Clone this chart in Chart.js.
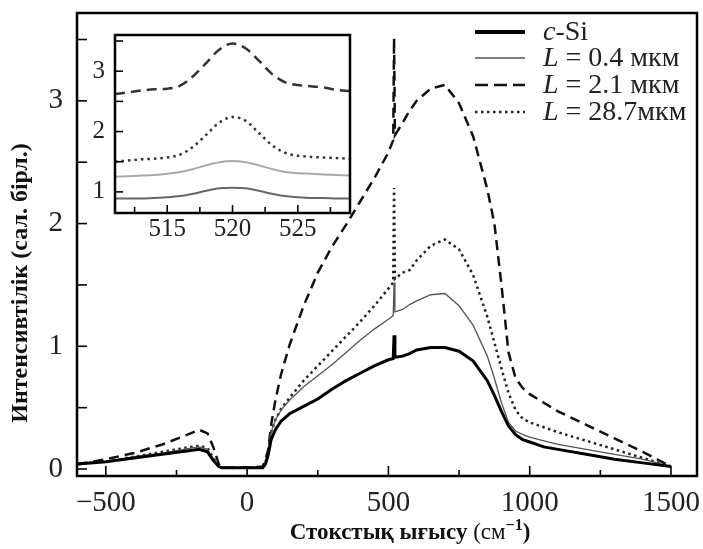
<!DOCTYPE html>
<html>
<head>
<meta charset="utf-8">
<script src="https://cdn.jsdelivr.net/npm/chart.js@4"></script>
<style>
  body { margin: 0; background: #fff; }
  #wrap { position: relative; width: 703px; height: 549px; }
  #main { position: absolute; left: 0; top: 0; }
  #inset { position: absolute; left: 85px; top: 25px; }
</style>
</head>
<body>
<div id="wrap">
  <canvas id="main" width="703" height="549"></canvas>
  <canvas id="inset" width="275" height="225"></canvas>
</div>
<script>
const seriesNames = ['c-Si', 'L = 0.4 мкм', 'L = 2.1 мкм', 'L = 28.7мкм'];
const xTitle = 'Стокстық ығысу ';
const yTitle = 'Интенсивтілік (сал. бірл.)';

const xTicks = [-500, -250, 0, 250, 500, 750, 1000, 1250, 1500];
const yTicks = [0, 0.5, 1, 1.5, 2, 2.5, 3, 3.5];
const insetXTicks = [512.5, 515, 517.5, 520, 522.5, 525, 527.5];
const insetYTicks = [1, 1.5, 2, 2.5, 3, 3.5];

// main spectrum, Raman shift in cm-1
const shifts = [-600, -500, -400, -300, -200, -170, -140, -120, -100, -90,
  0, 55, 65, 75, 85, 100, 120, 150, 200, 250,
  300, 350, 400, 450, 500, 517, 520, 523, 550, 575,
  600, 650, 700, 750, 800, 850, 875, 900, 925, 950,
  975, 1000, 1050, 1100, 1200, 1300, 1400, 1500];
const cSi = [0.04, 0.06, 0.09, 0.12, 0.15, 0.16, 0.14, 0.07, 0.02, 0.01,
  0.01, 0.01, 0.04, 0.12, 0.24, 0.32, 0.39, 0.45, 0.51, 0.57,
  0.65, 0.72, 0.78, 0.84, 0.89, 0.90, 1.09, 0.91, 0.92, 0.94,
  0.97, 0.99, 0.99, 0.96, 0.88, 0.72, 0.60, 0.47, 0.35, 0.28,
  0.24, 0.22, 0.18, 0.16, 0.12, 0.08, 0.05, 0.02];
const L04 = [0.04, 0.06, 0.10, 0.13, 0.17, 0.18, 0.16, 0.08, 0.02, 0.01,
  0.01, 0.01, 0.05, 0.16, 0.30, 0.40, 0.48, 0.56, 0.67, 0.76,
  0.85, 0.95, 1.05, 1.14, 1.22, 1.25, 1.52, 1.28, 1.30, 1.34,
  1.37, 1.42, 1.43, 1.33, 1.17, 0.92, 0.74, 0.54, 0.38, 0.31,
  0.28, 0.26, 0.23, 0.20, 0.16, 0.12, 0.08, 0.02];
const L21 = [0.04, 0.08, 0.13, 0.20, 0.29, 0.32, 0.29, 0.18, 0.04, 0.01,
  0.01, 0.02, 0.08, 0.16, 0.36, 0.56, 0.77, 1.01, 1.33, 1.60,
  1.81, 1.99, 2.18, 2.37, 2.58, 2.68, 3.51, 2.72, 2.82, 2.92,
  3.00, 3.10, 3.13, 2.98, 2.71, 2.28, 2.00, 1.50, 0.95, 0.74,
  0.66, 0.61, 0.54, 0.47, 0.36, 0.25, 0.14, 0.02];
const L287 = [0.04, 0.06, 0.10, 0.14, 0.18, 0.19, 0.17, 0.09, 0.02, 0.01,
  0.01, 0.01, 0.05, 0.16, 0.30, 0.40, 0.49, 0.58, 0.72, 0.84,
  0.96, 1.08, 1.20, 1.33, 1.47, 1.52, 2.29, 1.55, 1.60, 1.62,
  1.70, 1.82, 1.87, 1.79, 1.58, 1.24, 1.03, 0.82, 0.62, 0.48,
  0.41, 0.38, 0.34, 0.30, 0.23, 0.16, 0.09, 0.02];

// inset: zoom on the 520 cm-1 line
const insetShifts = [511, 512, 513, 514, 515, 516, 517, 518, 519, 520,
  521, 522, 523, 524, 525, 526, 527, 528, 529];
const insetCSi = [0.89, 0.89, 0.89, 0.90, 0.91, 0.93, 0.97, 1.02, 1.06, 1.07,
  1.06, 1.02, 0.97, 0.93, 0.91, 0.90, 0.90, 0.89, 0.89];
const insetL04 = [1.25, 1.26, 1.27, 1.28, 1.30, 1.33, 1.38, 1.44, 1.49, 1.51,
  1.49, 1.44, 1.38, 1.33, 1.31, 1.30, 1.29, 1.28, 1.27];
const insetL21 = [2.62, 2.65, 2.68, 2.70, 2.71, 2.76, 2.92, 3.14, 3.36, 3.46,
  3.38, 3.18, 2.96, 2.82, 2.77, 2.75, 2.73, 2.69, 2.67];
const insetL287 = [1.50, 1.52, 1.54, 1.55, 1.57, 1.62, 1.75, 1.95, 2.15, 2.24,
  2.18, 1.98, 1.78, 1.65, 1.60, 1.58, 1.57, 1.56, 1.55];

const serif = '"Liberation Serif", "Times New Roman", serif';
Chart.defaults.font.family = serif;
Chart.defaults.color = '#222';

const pts = (xs, ys) => xs.map((x, i) => ({ x, y: ys[i] }));
const fixedTicks = vals => s => { s.ticks = vals.map(value => ({ value })); };
const fixedSize = (key, size) => s => {
  s[key] = size;
  s.paddingTop = s.paddingBottom = s.paddingLeft = s.paddingRight = 0;
};

// inward tick marks + black frame
const frameTicks = {
  id: 'frameTicks',
  beforeDraw(chart, args, opts) {
    if (!opts.fill) return;
    const { ctx, chartArea: a } = chart;
    ctx.save();
    ctx.fillStyle = '#fff';
    ctx.fillRect(a.left, a.top, a.right - a.left, a.bottom - a.top);
    ctx.restore();
  },
  afterDraw(chart, args, opts) {
    const { ctx, chartArea: a, scales } = chart;
    ctx.save();
    ctx.strokeStyle = '#000';
    ctx.lineWidth = 1.6;
    scales.x.ticks.forEach(t => {
      const px = scales.x.getPixelForValue(t.value);
      const len = Math.abs(t.value % opts.xMajor) < 1e-6 ? opts.major : opts.minor;
      ctx.beginPath(); ctx.moveTo(px, a.bottom); ctx.lineTo(px, a.bottom - len); ctx.stroke();
    });
    scales.y.ticks.forEach(t => {
      const py = scales.y.getPixelForValue(t.value);
      ctx.beginPath(); ctx.moveTo(a.left, py); ctx.lineTo(a.left + opts.major, py); ctx.stroke();
    });
    ctx.lineWidth = opts.frame;
    ctx.strokeRect(a.left, a.top, a.right - a.left, a.bottom - a.top);
    ctx.restore();
  }
};

const titles = {
  id: 'titles',
  afterDraw(chart) {
    const ctx = chart.ctx;
    ctx.save();
    ctx.fillStyle = '#111';
    ctx.translate(21, 283);
    ctx.rotate(-Math.PI / 2);
    ctx.font = 'bold 24px ' + serif;
    ctx.textAlign = 'center';
    ctx.textBaseline = 'middle';
    ctx.fillText(yTitle, 0, 0);
    ctx.restore();

    const parts = [
      { t: xTitle, f: 'bold 23px ' + serif, dy: 0 },
      { t: '(см', f: '23px ' + serif, dy: 0 },
      { t: '−1', f: 'bold 16px ' + serif, dy: -9 },
      { t: ')', f: 'bold 23px ' + serif, dy: 0 }
    ];
    ctx.save();
    ctx.fillStyle = '#111';
    ctx.textBaseline = 'alphabetic';
    let w = 0;
    parts.forEach(p => { ctx.font = p.f; p.w = ctx.measureText(p.t).width; w += p.w; });
    let x = 410 - w / 2;
    parts.forEach(p => { ctx.font = p.f; ctx.fillText(p.t, x, 539 + p.dy); x += p.w; });
    ctx.restore();
  }
};

const sideLegend = {
  id: 'sideLegend',
  afterDraw(chart) {
    const ctx = chart.ctx;
    const rows = [32, 58, 85, 112];
    chart.data.datasets.forEach((ds, i) => {
      const y = rows[i];
      ctx.save();
      ctx.strokeStyle = ds.borderColor;
      ctx.lineWidth = i === 0 ? 4 : ds.borderWidth;
      ctx.setLineDash(i === 2 ? [13, 6] : (ds.borderDash || []));
      ctx.beginPath(); ctx.moveTo(475, y); ctx.lineTo(525, y); ctx.stroke();
      ctx.setLineDash([]);
      ctx.fillStyle = '#222';
      ctx.textBaseline = 'alphabetic';
      ctx.font = 'italic 28px ' + serif;
      const head = ds.label.charAt(0);
      ctx.fillText(head, 543, y + 8);
      const hw = ctx.measureText(head).width;
      ctx.font = '28px ' + serif;
      ctx.fillText(ds.label.slice(1), 543 + hw, y + 8);
      ctx.restore();
    });
  }
};

new Chart(document.getElementById('main'), {
  type: 'line',
  data: {
    datasets: [
      { label: seriesNames[0], data: pts(shifts, cSi), borderColor: '#000', borderWidth: 3 },
      { label: seriesNames[1], data: pts(shifts, L04), borderColor: '#555', borderWidth: 1.3 },
      { label: seriesNames[2], data: pts(shifts, L21), borderColor: '#111', borderWidth: 2.5, borderDash: [10, 6] },
      { label: seriesNames[3], data: pts(shifts, L287), borderColor: '#222', borderWidth: 2.5, borderDash: [2.5, 3.5] }
    ]
  },
  options: {
    responsive: false,
    animation: false,
    devicePixelRatio: 1,
    layout: { padding: { top: 13, right: 6 } },
    elements: { point: { radius: 0 }, line: { tension: 0 } },
    plugins: {
      legend: { display: false },
      tooltip: { enabled: false },
      frameTicks: { xMajor: 500, major: 10, minor: 6, frame: 2.5 }
    },
    scales: {
      x: {
        type: 'linear', min: -602, max: 1592,
        grid: { display: false, drawTicks: false }, border: { display: false },
        afterBuildTicks: fixedTicks(xTicks),
        ticks: {
          maxRotation: 0, autoSkip: false, padding: 10, font: { size: 29 },
          callback: v => v % 500 === 0 ? String(v).replace('-', '−') : ''
        },
        afterFit: fixedSize('height', 73)
      },
      y: {
        min: -0.057, max: 3.716,
        grid: { display: false, drawTicks: false }, border: { display: false },
        afterBuildTicks: fixedTicks(yTicks),
        ticks: {
          padding: 14, font: { size: 29 },
          callback: v => Number.isInteger(v) ? String(v) : ''
        },
        afterFit: fixedSize('width', 77)
      }
    }
  },
  plugins: [frameTicks, titles, sideLegend]
});

new Chart(document.getElementById('inset'), {
  type: 'line',
  data: {
    datasets: [
      { data: pts(insetShifts, insetCSi), borderColor: '#666', borderWidth: 2 },
      { data: pts(insetShifts, insetL04), borderColor: '#aaa', borderWidth: 2 },
      { data: pts(insetShifts, insetL21), borderColor: '#333', borderWidth: 2.5, borderDash: [10, 6] },
      { data: pts(insetShifts, insetL287), borderColor: '#333', borderWidth: 2.5, borderDash: [2.5, 4] }
    ]
  },
  options: {
    responsive: false,
    animation: false,
    devicePixelRatio: 1,
    layout: { padding: { top: 10, right: 10 } },
    elements: { point: { radius: 0 }, line: { cubicInterpolationMode: 'monotone' } },
    plugins: {
      legend: { display: false },
      tooltip: { enabled: false },
      frameTicks: { xMajor: 5, major: 8, minor: 6, frame: 2.5, fill: true }
    },
    scales: {
      x: {
        type: 'linear', min: 511, max: 529,
        grid: { display: false, drawTicks: false }, border: { display: false },
        afterBuildTicks: fixedTicks(insetXTicks),
        ticks: {
          maxRotation: 0, autoSkip: false, padding: 1, font: { size: 25 },
          callback: v => v % 5 === 0 ? String(v) : ''
        },
        afterFit: fixedSize('height', 37)
      },
      y: {
        min: 0.65, max: 3.6,
        grid: { display: false, drawTicks: false }, border: { display: false },
        afterBuildTicks: fixedTicks(insetYTicks),
        ticks: {
          padding: 10, font: { size: 25 },
          callback: v => Number.isInteger(v) ? String(v) : ''
        },
        afterFit: fixedSize('width', 30)
      }
    }
  },
  plugins: [frameTicks]
});
</script>
</body>
</html>
